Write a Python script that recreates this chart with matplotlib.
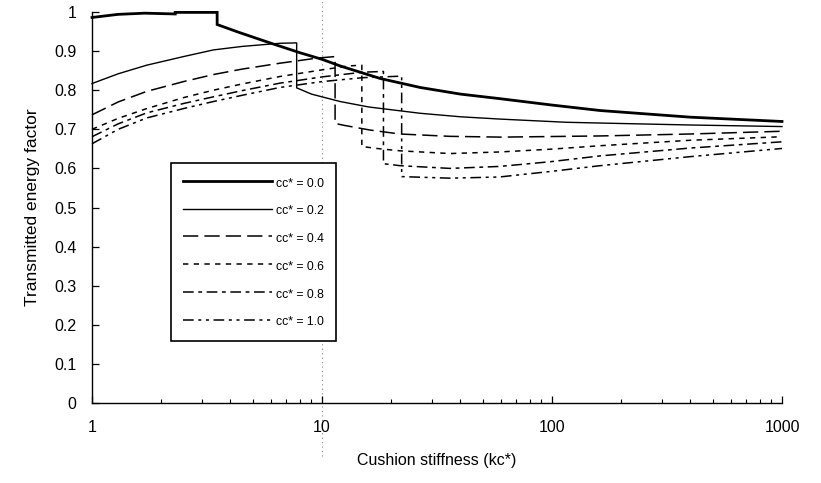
import matplotlib
matplotlib.use("Agg")
import matplotlib.pyplot as plt
from matplotlib.ticker import FixedLocator, NullFormatter, LogLocator

plt.rcParams['font.family'] = ['Liberation Sans', 'DejaVu Sans']

# ---- data ----
labels = ["cc* = 0.0", "cc* = 0.2", "cc* = 0.4", "cc* = 0.6", "cc* = 0.8", "cc* = 1.0"]

x00 = [1, 1.3, 1.7, 2.3, 2.3, 2.4, 3.5, 3.5, 4.3, 5.94, 8, 10, 12, 17.9, 26.7, 40, 60, 100, 162, 400, 1000]
y00 = [0.986, 0.994, 0.997, 0.995, 0.999, 0.999, 0.999, 0.968, 0.949, 0.921, 0.896, 0.879, 0.862, 0.830, 0.807, 0.790, 0.778, 0.762, 0.748, 0.731, 0.720]

x02 = [1, 1.3, 1.73, 2.5, 3.37, 4.5, 6.56, 7.76, 7.76, 9, 12, 16, 26.7, 40, 60, 115, 162, 400, 1000]
y02 = [0.817, 0.842, 0.864, 0.886, 0.903, 0.912, 0.920, 0.921, 0.806, 0.790, 0.771, 0.757, 0.741, 0.732, 0.726, 0.718, 0.716, 0.711, 0.707]

x04 = [1, 1.3, 1.73, 2.5, 3.37, 4.5, 6.56, 9.5, 11.4, 11.4, 12.5, 16.2, 21.8, 36, 60, 162, 400, 1000]
y04 = [0.737, 0.770, 0.797, 0.822, 0.840, 0.854, 0.869, 0.882, 0.886, 0.715, 0.710, 0.698, 0.688, 0.682, 0.680, 0.683, 0.688, 0.695]

x06 = [1, 1.3, 1.73, 2.5, 3.37, 4.5, 6.56, 10, 13, 14.9, 14.9, 17.3, 21.8, 36, 59, 98, 162, 400, 1000]
y06 = [0.700, 0.728, 0.753, 0.781, 0.800, 0.816, 0.835, 0.852, 0.862, 0.864, 0.656, 0.651, 0.645, 0.638, 0.642, 0.649, 0.658, 0.672, 0.681]

x08 = [1, 1.3, 1.73, 2.5, 3.37, 4.5, 6.56, 10, 15, 18.5, 18.5, 21.8, 36, 59, 98, 162, 398, 1000]
y08 = [0.681, 0.714, 0.742, 0.766, 0.783, 0.799, 0.818, 0.834, 0.846, 0.848, 0.612, 0.607, 0.600, 0.605, 0.617, 0.632, 0.652, 0.668]

x10 = [1, 1.3, 1.73, 2.5, 3.37, 4.5, 6.56, 10, 15, 22.2, 22.2, 36, 59, 98, 162, 398, 1000]
y10 = [0.663, 0.700, 0.729, 0.753, 0.771, 0.787, 0.807, 0.822, 0.832, 0.836, 0.579, 0.575, 0.578, 0.592, 0.607, 0.630, 0.651]

xs = [x00, x02, x04, x06, x08, x10]
ys = [y00, y02, y04, y06, y08, y10]

x_ticks = [1, 10, 100, 1000]
x_ticklabels = ["1", "10", "100", "1000"]
y_ticks = [0, 0.1, 0.2, 0.3, 0.4, 0.5, 0.6, 0.7, 0.8, 0.9, 1.0]
y_ticklabels = ["0", "0.1", "0.2", "0.3", "0.4", "0.5", "0.6", "0.7", "0.8", "0.9", "1"]

# ---- styles ----
widths = [2.0, 1.0, 1.1, 1.1, 1.1, 1.1]
dashes = [None, None, (10, 4), (3.5, 3.5), (7, 3, 2.5, 3), (7, 3, 2, 3, 2, 3)]

fig = plt.figure(figsize=(8.21, 4.83), dpi=100)
ax = fig.add_axes([92/821, 80/483, 690/821, 391/483])

for x, y, lab, lw, d in zip(xs, ys, labels, widths, dashes):
    line, = ax.plot(x, y, color='black', lw=lw, label=lab, clip_on=False,
                    solid_joinstyle='miter')
    if d is not None:
        line.set_dashes(d)

ax.set_xscale('log')
ax.set_xlim(1, 1000)
ax.set_ylim(0, 1.0)

# dotted vertical reference at x = 10
ax.axvline(10, ymin=-0.135, ymax=1.035, color='#888888', lw=0.8,
           linestyle=(0, (1, 3)), clip_on=False, zorder=0)

ax.spines['top'].set_visible(False)
ax.spines['right'].set_visible(False)
ax.spines['left'].set_linewidth(1.0)
ax.spines['bottom'].set_linewidth(1.0)

ax.xaxis.set_major_locator(FixedLocator(x_ticks))
ax.set_xticklabels(x_ticklabels)
ax.xaxis.set_minor_locator(LogLocator(base=10, subs=range(2, 10)))
ax.xaxis.set_minor_formatter(NullFormatter())
ax.set_yticks(y_ticks)
ax.set_yticklabels(y_ticklabels)

ax.tick_params(axis='x', which='major', direction='in', length=5, width=0.9,
               pad=12, labelsize=11.5)
ax.tick_params(axis='x', which='minor', direction='in', length=3, width=0.8)
ax.tick_params(axis='y', which='major', direction='in', length=5, width=0.9,
               pad=11, labelsize=11.5)

ax.set_xlabel("Cushion stiffness (kc*)", fontsize=11.5, labelpad=13)
ax.set_ylabel("Transmitted energy factor", fontsize=12.5, labelpad=10)

leg = ax.legend(loc='upper left', bbox_to_anchor=(0.1145, 0.614),
                borderaxespad=0, fontsize=8.8, handlelength=7.3,
                handleheight=1.5, handletextpad=0.3, labelspacing=1.05,
                borderpad=1.0, fancybox=False, frameon=True, markerfirst=True)
fr = leg.get_frame()
fr.set_edgecolor('black')
fr.set_linewidth(1.2)
fr.set_facecolor('white')
fr.set_alpha(1)

fig.savefig("out.png", dpi=100)
